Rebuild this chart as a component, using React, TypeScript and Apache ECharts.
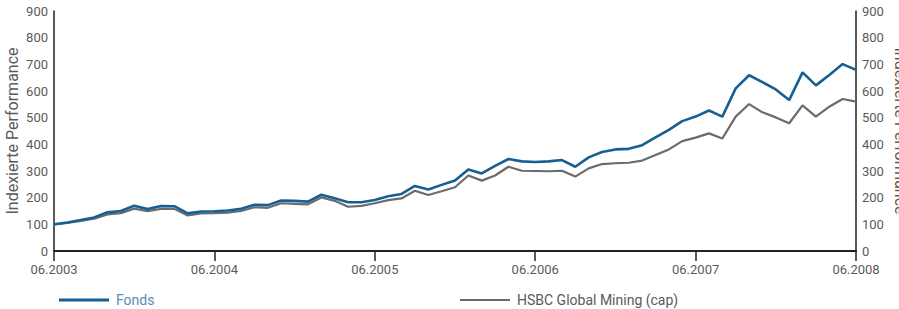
import React, { useEffect, useRef } from "react";
import * as echarts from "echarts";

const years = ["2003", "2004", "2005", "2006", "2007", "2008"];
const monthCount = 61;
const fonds = [
  100, 107, 116, 126, 145, 150, 170, 157, 169, 168, 141, 148, 149, 152, 158, 173,
  172, 189, 188, 185, 211, 198, 183, 183, 191, 205, 214, 244, 231, 248, 264, 306,
  291, 319, 345, 336, 334, 336, 341, 316, 351, 371, 381, 383, 397, 426, 454, 487,
  504, 527, 504, 610, 659, 633, 606, 566, 670, 621, 660, 701, 679,
];
const hsbc = [
  100, 105, 113, 121, 137, 142, 159, 149, 158, 158, 133, 141, 142, 144, 150, 164,
  162, 179, 177, 175, 201, 188, 166, 169, 179, 191, 197, 226, 210, 224, 239, 283,
  264, 283, 316, 301, 300, 299, 301, 279, 310, 326, 329, 331, 339, 360, 381, 412,
  425, 441, 422, 504, 551, 520, 501, 479, 546, 504, 541, 570, 560,
];
const seriesNames = ["Fonds", "HSBC Global Mining (cap)"];
const axisName = "Indexierte Performance";

const categories: string[] = [];
for (let i = 0; i < monthCount; i++) {
  const m = ((5 + i) % 12) + 1;
  const y = 2003 + Math.floor((5 + i) / 12);
  categories.push((m < 10 ? "0" + m : "" + m) + "." + y);
}

const BLUE = "#155f95";
const GRAY = "#6b6b6b";
const TXT = "#5a5a5a";
const FONT = "Roboto";

export default function App() {
  const ref = useRef<HTMLDivElement>(null);
  useEffect(() => {
    if (!ref.current) return;
    const chart = echarts.init(ref.current, null, { renderer: "svg" });
    const yAxisCommon = {
      type: "value",
      min: 0,
      max: 900,
      interval: 100,
      splitLine: { show: false },
      axisTick: { show: false },
      axisLine: { show: true, lineStyle: { color: "#222", width: 1.5 } },
      axisLabel: { color: TXT, fontSize: 13, fontFamily: FONT, margin: 6 },
      name: axisName,
      nameLocation: "middle",
      nameMoveOverlap: false,
      nameTextStyle: { color: TXT, fontSize: 16, fontFamily: FONT },
    };
    chart.setOption({
      animation: false,
      grid: { left: 54, right: 43, top: 11, bottom: 58, outerBoundsMode: "none" },
      legend: [
        {
          data: [{ name: seriesNames[0], textStyle: { color: "#5b8cb4" } }],
          left: 54,
          top: 288,
          icon: "rect",
          itemWidth: 50,
          itemHeight: 3,
          itemGap: 0,
          textStyle: { fontSize: 14, fontFamily: FONT, padding: [0, 0, 0, 2] },
          selectedMode: false,
        },
        {
          data: [{ name: seriesNames[1], textStyle: { color: TXT } }],
          left: 455,
          top: 288,
          icon: "rect",
          itemWidth: 50,
          itemHeight: 2,
          itemGap: 0,
          textStyle: { fontSize: 14, fontFamily: FONT, padding: [0, 0, 0, 2] },
          selectedMode: false,
        },
      ],
      xAxis: {
        type: "category",
        data: categories,
        boundaryGap: false,
        axisLine: { show: true, lineStyle: { color: "#222", width: 2 } },
        axisTick: {
          show: true,
          length: 10,
          interval: (i: number) => i % 12 === 0,
          lineStyle: { color: "#222", width: 1.5 },
        },
        axisLabel: {
          color: TXT,
          fontSize: 13,
          fontFamily: FONT,
          margin: 12,
          interval: (i: number) => i % 12 === 0,
          showMaxLabel: true,
        },
        splitLine: { show: false },
      },
      yAxis: [
        { ...yAxisCommon, position: "left", nameGap: 34, nameRotate: 90 },
        { ...yAxisCommon, position: "right", nameGap: 36, nameRotate: -90 },
      ],
      series: [
        {
          name: seriesNames[1],
          type: "line",
          data: hsbc,
          symbol: "none",
          lineStyle: { color: GRAY, width: 2.2 },
          itemStyle: { color: GRAY },
          z: 2,
        },
        {
          name: seriesNames[0],
          type: "line",
          data: fonds,
          symbol: "none",
          lineStyle: { color: BLUE, width: 2.6 },
          itemStyle: { color: BLUE },
          z: 3,
        },
      ],
    });
    return () => chart.dispose();
  }, []);
  return <div ref={ref} style={{ width: 899, height: 309, position: "absolute", left: 0, top: 0 }} />;
}
